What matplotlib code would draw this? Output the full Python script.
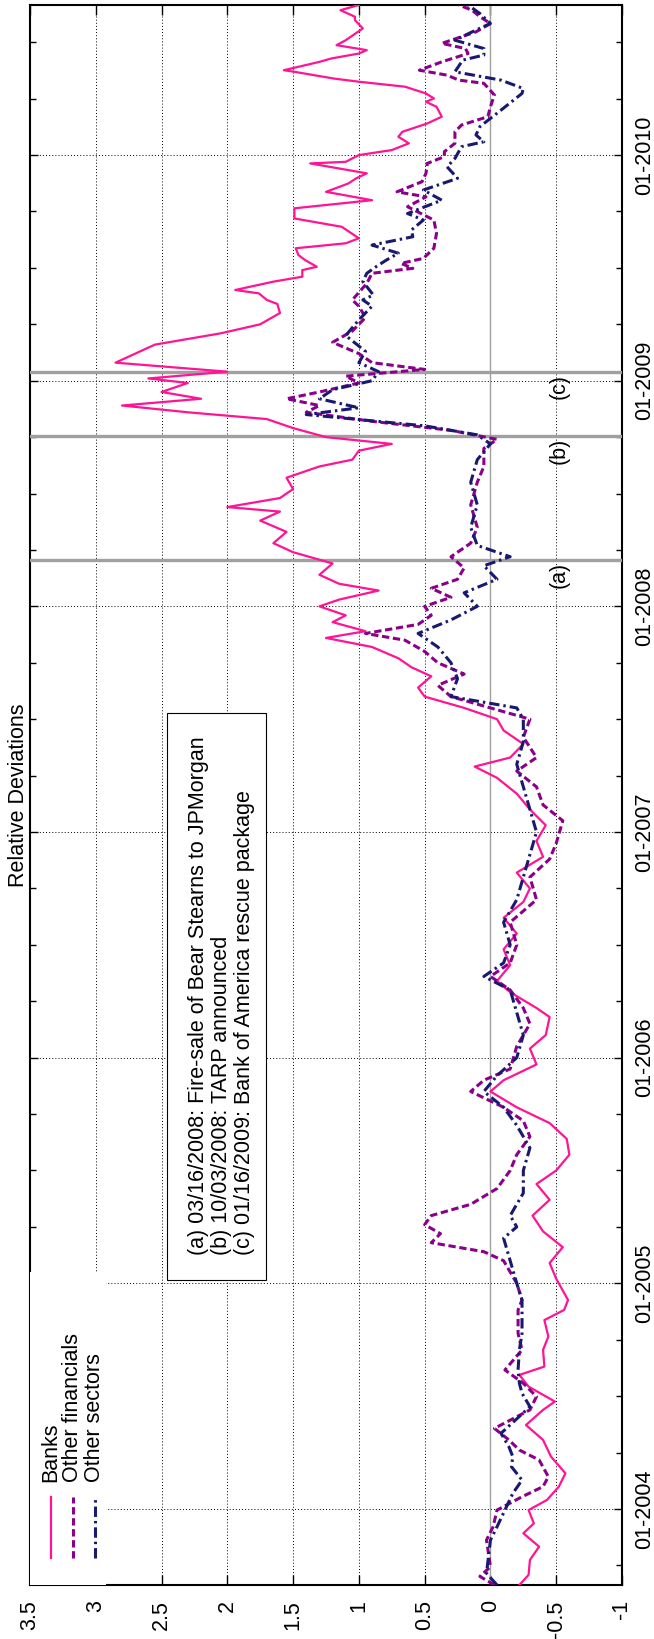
import matplotlib
matplotlib.use("Agg")
import matplotlib.pyplot as plt
from matplotlib.patches import Rectangle

# --------------------------------------------------
# DATA (time in fractional years, value = relative deviation)
# --------------------------------------------------
banks_t = [2003.663, 2003.708, 2003.774, 2003.833, 2003.892, 2003.936, 2003.995, 2004.040,
           2004.099, 2004.158, 2004.232, 2004.306, 2004.372, 2004.439, 2004.476, 2004.542,
           2004.594, 2004.631, 2004.705, 2004.764, 2004.837, 2004.882, 2004.926,
           2005.02, 2005.09, 2005.16, 2005.23, 2005.30, 2005.37, 2005.44, 2005.50, 2005.57,
           2005.64, 2005.71, 2005.78, 2005.85, 2005.90, 2005.97, 2006.04, 2006.10, 2006.18,
           2006.22, 2006.29, 2006.34, 2006.41, 2006.48, 2006.55, 2006.62, 2006.69, 2006.75,
           2006.82, 2006.89, 2006.96, 2007.03, 2007.10, 2007.17, 2007.24, 2007.29, 2007.33,
           2007.39, 2007.45, 2007.50, 2007.55, 2007.60, 2007.64, 2007.69, 2007.73, 2007.77,
           2007.82, 2007.86, 2007.89, 2007.93, 2007.96, 2008.00, 2008.03, 2008.07, 2008.10,
           2008.14, 2008.19, 2008.24, 2008.28, 2008.33, 2008.38, 2008.42, 2008.44, 2008.48,
           2008.52, 2008.57, 2008.62, 2008.65, 2008.69, 2008.72, 2008.75, 2008.79, 2008.83,
           2008.86, 2008.89, 2008.92, 2008.95, 2008.99, 2009.01, 2009.04, 2009.08, 2009.12,
           2009.16, 2009.21, 2009.25, 2009.30, 2009.34,
           2009.358, 2009.387, 2009.402, 2009.439, 2009.461, 2009.476, 2009.490, 2009.505,
           2009.535, 2009.557, 2009.587, 2009.609, 2009.631, 2009.682, 2009.719, 2009.764,
           2009.800, 2009.837, 2009.874, 2009.897, 2009.919, 2009.963, 2009.970, 2010.000,
           2010.022, 2010.052, 2010.081, 2010.103, 2010.140, 2010.170, 2010.214, 2010.236,
           2010.251, 2010.273, 2010.303, 2010.325, 2010.339, 2010.369, 2010.376, 2010.413,
           2010.428, 2010.450, 2010.465, 2010.487, 2010.509, 2010.561, 2010.598, 2010.613,
           2010.642, 2010.665]
banks_v = [-0.22, -0.29, -0.30, -0.37, -0.25, -0.33, -0.29, -0.43,
           -0.52, -0.57, -0.46, -0.40, -0.27, -0.40, -0.49, -0.29,
           -0.22, -0.41, -0.40, -0.44, -0.41, -0.56, -0.59,
           -0.50, -0.45, -0.55, -0.40, -0.32, -0.45, -0.35, -0.50, -0.60,
           -0.58, -0.45, -0.20, 0.00, -0.10, -0.35, -0.30, -0.42, -0.45,
           -0.35, -0.15, -0.05, -0.15, -0.10, -0.20, -0.10, -0.25, -0.30,
           -0.20, -0.40, -0.35, -0.42, -0.30, -0.20, -0.05, 0.12, -0.15,
           -0.25, -0.10, -0.05, 0.20, 0.50, 0.55, 0.45, 0.60, 0.70,
           0.90, 1.25, 0.95, 1.20, 1.10, 1.30, 1.15, 0.85, 1.15,
           1.30, 1.20, 1.50, 1.65, 1.55, 1.75, 1.60, 2.00, 1.60,
           1.50, 1.55, 1.30, 1.05, 1.00, 0.75, 1.25, 1.50, 1.70,
           2.30, 2.80, 2.20, 2.50, 2.30, 2.60, 2.00, 2.85, 2.70,
           2.55, 2.05, 1.75, 1.60, 1.62,
           1.70, 1.76, 1.94, 1.65, 1.43, 1.43, 1.43, 1.32,
           1.41, 1.46, 1.48, 1.10, 1.00, 1.13, 1.49, 1.49,
           0.90, 1.25, 1.08, 1.02, 0.94, 1.37, 1.10, 1.00,
           0.75, 0.62, 0.70, 0.67, 0.48, 0.37, 0.41, 0.49,
           0.43, 0.49, 0.65, 1.00, 1.19, 1.49, 1.57, 1.30,
           1.21, 1.00, 0.94, 1.17, 1.10, 0.97, 1.03, 1.03,
           1.14, 1.00]

other_fin_t = [2003.663, 2003.701, 2003.744, 2003.862, 2003.921, 2003.995, 2004.054, 2004.099,
               2004.143, 2004.217, 2004.261, 2004.306, 2004.357, 2004.439, 2004.498, 2004.557,
               2004.616, 2004.705, 2004.778, 2004.882, 2004.926,
               2005.00, 2005.10, 2005.14, 2005.18, 2005.22, 2005.26, 2005.30, 2005.35, 2005.42,
               2005.50, 2005.57, 2005.65, 2005.72, 2005.78, 2005.85, 2005.90, 2005.95, 2006.05,
               2006.15, 2006.22, 2006.30, 2006.36, 2006.42, 2006.50, 2006.60, 2006.70, 2006.80,
               2006.88, 2006.95, 2007.05, 2007.12, 2007.20, 2007.27, 2007.33, 2007.42, 2007.50,
               2007.55, 2007.60, 2007.65, 2007.70, 2007.75, 2007.80, 2007.85, 2007.88, 2007.92,
               2007.96, 2008.00, 2008.04, 2008.08, 2008.12, 2008.17, 2008.22, 2008.28, 2008.35,
               2008.45, 2008.55, 2008.62, 2008.70, 2008.74, 2008.78, 2008.82, 2008.86, 2008.89,
               2008.92, 2008.95, 2008.99, 2009.02, 2009.05, 2009.08, 2009.12, 2009.17, 2009.22,
               2009.28, 2009.33,
               2009.358, 2009.431, 2009.476, 2009.498, 2009.520, 2009.542, 2009.587, 2009.653,
               2009.712, 2009.771, 2009.815, 2009.837, 2009.882, 2009.919, 2009.963, 2009.993,
               2010.015, 2010.052, 2010.103, 2010.133, 2010.170, 2010.214, 2010.266, 2010.318,
               2010.332, 2010.354, 2010.376, 2010.413, 2010.450, 2010.472, 2010.495, 2010.546,
               2010.583, 2010.613, 2010.642, 2010.665]
other_fin_v = [-0.03, 0.08, 0.00, 0.03, -0.02, -0.05, -0.24, -0.40,
               -0.44, -0.37, -0.22, -0.14, -0.03, -0.30, -0.35, -0.25,
               -0.11, -0.24, -0.21, -0.21, -0.24,
               -0.20, -0.10, 0.05, 0.45, 0.38, 0.50, 0.45, 0.15, -0.05,
               -0.15, -0.20, -0.30, -0.25, -0.10, 0.15, 0.05, -0.15, -0.20,
               -0.30, -0.25, -0.15, 0.00, -0.15, -0.20, -0.15, -0.35, -0.30,
               -0.45, -0.50, -0.55, -0.40, -0.35, -0.20, -0.35, -0.25, -0.30,
               0.00, 0.30, 0.40, 0.20, 0.40, 0.50, 0.65, 0.95, 0.55,
               0.45, 0.50, 0.30, 0.45, 0.25, 0.20, 0.30, 0.15, 0.10,
               0.15, 0.10, 0.05, 0.05, -0.05, 0.30, 0.90, 1.40, 1.30,
               1.55, 1.30, 1.00, 1.10, 0.50, 0.90, 1.00, 1.20, 1.05,
               0.95, 1.00,
               1.05, 0.94, 0.90, 0.59, 0.68, 0.51, 0.43, 0.41,
               0.43, 0.63, 0.49, 0.71, 0.52, 0.49, 0.48, 0.35,
               0.35, 0.27, 0.27, 0.22, 0.02, 0.00, -0.03, 0.05,
               0.24, 0.33, 0.54, 0.37, 0.17, 0.19, 0.37, 0.11,
               0.00, 0.08, 0.14, 0.24]

other_sec_t = [2003.663, 2003.715, 2003.862, 2003.921, 2003.995, 2004.069, 2004.128, 2004.187,
               2004.232, 2004.276, 2004.335, 2004.453, 2004.513, 2004.557, 2004.616, 2004.705,
               2004.778, 2004.926,
               2005.00, 2005.10, 2005.20, 2005.25, 2005.30, 2005.40, 2005.50, 2005.60, 2005.70,
               2005.78, 2005.85, 2005.92, 2006.00, 2006.10, 2006.20, 2006.30, 2006.36, 2006.42,
               2006.50, 2006.60, 2006.70, 2006.80, 2006.90, 2007.00, 2007.10, 2007.20, 2007.30,
               2007.40, 2007.50, 2007.55, 2007.60, 2007.68, 2007.75, 2007.82, 2007.88, 2007.94,
               2008.00, 2008.06, 2008.12, 2008.18, 2008.22, 2008.27, 2008.35, 2008.45, 2008.55,
               2008.65, 2008.72, 2008.76, 2008.80, 2008.85, 2008.88, 2008.92, 2008.96, 2009.00,
               2009.04, 2009.08, 2009.13, 2009.20, 2009.27, 2009.33,
               2009.358, 2009.380, 2009.439, 2009.476, 2009.505, 2009.535, 2009.565, 2009.601,
               2009.638, 2009.668, 2009.712, 2009.741, 2009.800, 2009.845, 2009.897, 2009.948,
               2009.985, 2010.037, 2010.059, 2010.089, 2010.126, 2010.199, 2010.273, 2010.295,
               2010.332, 2010.369, 2010.421, 2010.443, 2010.472, 2010.509, 2010.554, 2010.583,
               2010.627, 2010.665]
other_sec_v = [-0.05, 0.03, 0.00, -0.05, -0.11, -0.17, -0.24, -0.16,
               -0.17, -0.14, -0.08, -0.30, -0.24, -0.22, -0.21, -0.22,
               -0.24, -0.24,
               -0.20, -0.15, -0.10, -0.20, -0.15, -0.25, -0.25, -0.30, -0.20,
               -0.10, 0.05, -0.05, -0.20, -0.25, -0.20, -0.15, 0.05, -0.10,
               -0.15, -0.10, -0.20, -0.25, -0.30, -0.35, -0.30, -0.25, -0.20,
               -0.25, -0.25, -0.20, 0.30, 0.25, 0.30, 0.40, 0.55, 0.30,
               0.10, 0.20, -0.05, 0.05, -0.15, 0.10, 0.15, 0.10, 0.15,
               0.10, 0.00, 0.10, 0.50, 1.40, 1.00, 1.30, 1.20, 0.90,
               0.85, 1.00, 0.95, 1.10, 1.00, 0.90,
               0.97, 0.89, 0.97, 0.94, 0.87, 0.79, 0.70, 0.90,
               0.59, 0.60, 0.51, 0.63, 0.37, 0.51, 0.25, 0.33,
               0.27, 0.22, 0.05, 0.11, 0.08, -0.08, -0.24, -0.25,
               -0.08, 0.27, 0.21, 0.05, 0.05, 0.27, 0.11, 0.00,
               0.08, 0.17]

event_t = [2008.205, 2008.755, 2009.04]
event_tags = ["(a)", "(b)", "(c)"]
event_notes = ["(a) 03/16/2008: Fire-sale of Bear Stearns to JPMorgan",
               "(b) 10/03/2008: TARP announced",
               "(c) 01/16/2009: Bank of America rescue package"]

year_ticks = [2004, 2005, 2006, 2007, 2008, 2009, 2010]
year_labels = ["01-2004", "01-2005", "01-2006", "01-2007", "01-2008", "01-2009", "01-2010"]
quarter_ticks = [2003.75, 2004.25, 2004.5, 2004.75, 2005.25, 2005.5, 2005.75,
                 2006.25, 2006.5, 2006.75, 2007.25, 2007.5, 2007.75, 2008.25, 2008.5,
                 2008.75, 2009.25, 2009.5, 2009.75, 2010.25, 2010.5]
value_ticks = [-1, -0.5, 0, 0.5, 1, 1.5, 2, 2.5, 3, 3.5]
value_labels = ["-1", "-0.5", "0", "0.5", "1", "1.5", "2", "2.5", "3", "3.5"]

# --------------------------------------------------
# FIGURE (gnuplot page rotated by 90 degrees)
# --------------------------------------------------
plt.rcParams['font.family'] = ['Liberation Sans', 'DejaVu Sans']
FS = 15.5

fig = plt.figure(figsize=(6.54, 16.39), dpi=100)
ax = fig.add_axes([30 / 654, 54 / 1639, 592 / 654, 1580 / 1639])

PINK = '#ff1493'
PURPLE = '#8b008b'
NAVY = '#191970'

ax.plot(banks_v, banks_t, color=PINK, lw=1.6, zorder=4)
ax.plot(other_fin_v, other_fin_t, color=PURPLE, lw=2.2, dashes=(2.4, 1.2), zorder=4)
ax.plot(other_sec_v, other_sec_t, color=NAVY, lw=2.2, dashes=(3.4, 1.3, 0.8, 1.3), zorder=4)

ax.set_xlim(3.5, -1)
ax.set_ylim(2003.663, 2010.665)

# grid
ax.set_xticks(value_ticks)
ax.set_xticklabels(value_labels)
ax.set_yticks(year_ticks)
ax.set_yticklabels(year_labels)
ax.set_yticks(quarter_ticks, minor=True)
ax.grid(True, which='major', color='black', lw=0.7, linestyle=(0, (1, 2.2)), zorder=1)
ax.axvline(0, color='#a0a0a0', lw=1.0, zorder=2)

# event markers
for t, tag in zip(event_t, event_tags):
    ax.axhline(t, color='#a0a0a0', lw=2.4, zorder=3)
    ax.text(-0.52, t - 0.01, tag, rotation=90, ha='center', va='top', fontsize=FS, zorder=6)

ax.tick_params(axis='x', which='major', direction='in', length=7, width=1,
               top=True, bottom=True, labelsize=FS, pad=11, labelrotation=90)
ax.tick_params(axis='y', which='major', direction='in', length=6, width=1,
               left=True, right=True, labelleft=False, labelright=True,
               labelsize=FS, pad=9, labelrotation=90)
ax.tick_params(axis='y', which='minor', direction='in', length=4, width=1,
               left=True, right=True)
for lab in ax.get_yticklabels():
    lab.set_va('center')
for sp in ax.spines.values():
    sp.set_linewidth(1.5)

# key (drawn by hand because the text runs vertically)
ax.add_patch(Rectangle((0, 0), 0.129, 0.198, transform=ax.transAxes,
                       fc='white', ec='none', zorder=5))
key = [("Banks", PINK, 1.6, None),
       ("Other financials", PURPLE, 2.2, (2.4, 1.2)),
       ("Other sectors", NAVY, 2.2, (3.4, 1.3, 0.8, 1.3))]
for i, (name, col, lw, dash) in enumerate(key):
    kx = 0.0355 + i * 0.0371
    ln, = ax.plot([kx, kx], [0.0171, 0.0557], transform=ax.transAxes,
                  color=col, lw=lw, zorder=6, clip_on=False)
    if dash:
        ln.set_dashes(dash)
    ax.text(kx, 0.0652, name, transform=ax.transAxes, rotation=90,
            ha='center', va='bottom', fontsize=FS, zorder=6)

# annotation box
ax.add_patch(Rectangle((0.231, 0.193), 0.168, 0.359, transform=ax.transAxes,
                       fc='white', ec='black', lw=0.8, zorder=5))
for i, note in enumerate(event_notes):
    ax.text(0.284 + i * 0.0389, 0.209, note, transform=ax.transAxes, rotation=90,
            ha='center', va='bottom', fontsize=FS, zorder=6)

fig.text(19 / 654, (54 + 790) / 1639, "Relative Deviations", rotation=90,
         ha='center', va='center', fontsize=FS)

fig.savefig("out.png", dpi=100)
